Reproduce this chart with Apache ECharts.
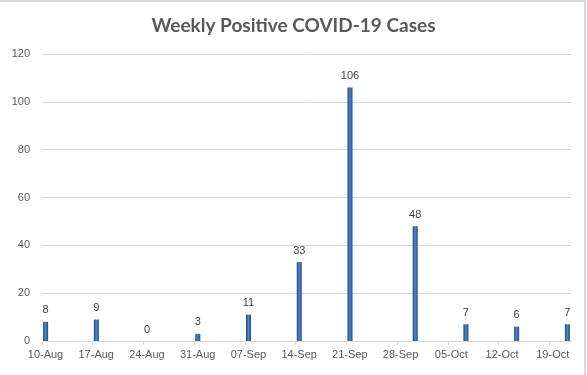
<!DOCTYPE html>
<html lang="en">
<head>
    <meta charset="UTF-8">
    <title>Weekly Positive COVID-19 Cases</title>
    <script src="https://cdn.jsdelivr.net/npm/echarts@6/dist/echarts.min.js"></script>
    <style>
        html, body { margin: 0; padding: 0; background: #fff; }
        #main { width: 587px; height: 375px; }
    </style>
</head>
<body>
<div id="main"></div>
<script>
    // dates of each weekly count (the later ones were reported 2 days after the week label)
    let caseDates = ['2020-08-10', '2020-08-17', '2020-08-24', '2020-08-31', '2020-09-07', '2020-09-14',
        '2020-09-21', '2020-09-30', '2020-10-07', '2020-10-14', '2020-10-21'];
    let cases = [8, 9, 0, 3, 11, 33, 106, 48, 7, 6, 7];
    // x axis tick labels, one per week, starting at 10-Aug
    let weekLabels = ['10-Aug', '17-Aug', '24-Aug', '31-Aug', '07-Sep', '14-Sep',
        '21-Sep', '28-Sep', '05-Oct', '12-Oct', '19-Oct'];
    let axisStart = '2020-08-10';
    let axisEnd = '2020-10-22';

    const DAY = 24 * 3600 * 1000;
    function dayOf(s) {
        return Math.round((Date.parse(s) - Date.parse(axisStart)) / DAY);
    }
    // bars sit in the middle of their day, like a date axis
    let barData = caseDates.map((d, i) => [dayOf(d) + 0.5, cases[i]]);
    let tickDays = weekLabels.map((l, i) => i * 7);

    let myChart = echarts.init(document.getElementById('main'));

    let barColor = new echarts.graphic.LinearGradient(0, 0, 1, 0, [
        {offset: 0, color: '#1f4680'},
        {offset: 0.5, color: '#5286c8'},
        {offset: 1, color: '#1f4680'}
    ]);

    let option = {
        backgroundColor: '#fff',
        animation: false,
        title: {
            text: 'Weekly Positive COVID-19 Cases',
            left: 'center',
            top: 11,
            textStyle: {
                fontFamily: 'Lato',
                fontSize: 19,
                fontWeight: 'bold',
                color: '#595959'
            }
        },
        graphic: [{
            type: 'rect',
            shape: {x: -3, y: 1, width: 588, height: 380},
            style: {fill: 'none', stroke: '#d9d9d9', lineWidth: 2},
            silent: true
        }],
        grid: {
            left: 42,
            right: 16,
            top: 54,
            bottom: 34
        },
        xAxis: {
            type: 'value',
            min: 0,
            max: dayOf(axisEnd),
            interval: 7,
            splitLine: {show: false},
            axisLine: {show: true, lineStyle: {color: '#d9d9d9'}},
            axisTick: {show: true, length: 4, customValues: tickDays, lineStyle: {color: '#d9d9d9'}},
            axisLabel: {
                customValues: tickDays,
                formatter: v => weekLabels[Math.round(v / 7)] || '',
                color: '#595959',
                fontFamily: 'Liberation Sans',
                fontSize: 11,
                margin: 8,
                padding: [0, 0, 0, 7]
            }
        },
        yAxis: {
            type: 'value',
            min: 0,
            max: 120,
            interval: 20,
            axisLine: {show: false},
            axisTick: {show: false},
            splitLine: {lineStyle: {color: '#d9d9d9'}},
            axisLabel: {
                color: '#595959',
                fontFamily: 'Liberation Sans',
                fontSize: 11,
                margin: 12
            }
        },
        series: [{
            name: 'Cases',
            type: 'bar',
            data: barData,
            barWidth: 5,
            itemStyle: {color: barColor},
            label: {
                show: true,
                position: 'top',
                distance: 6,
                color: '#404040',
                fontFamily: 'Liberation Sans',
                fontSize: 11,
                formatter: p => p.value[1]
            }
        }]
    };
    myChart.setOption(option);
</script>
</body>
</html>
